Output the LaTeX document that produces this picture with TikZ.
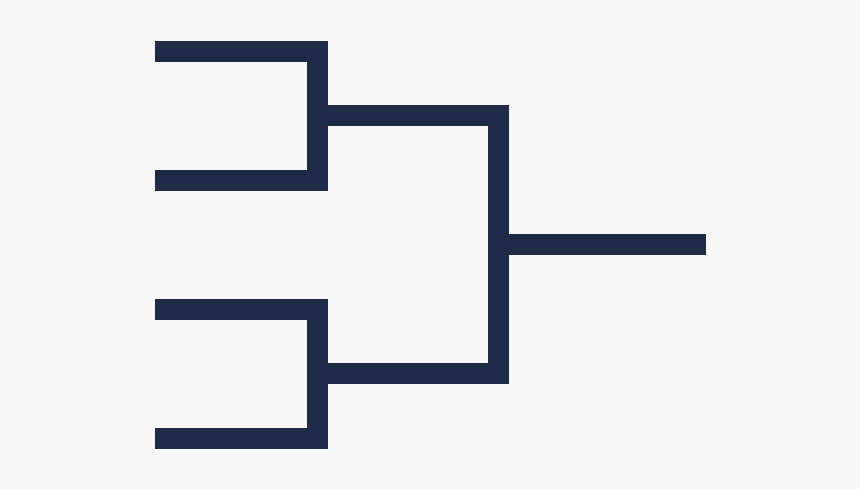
\documentclass[tikz,border=0pt]{standalone}
\definecolor{bg}{HTML}{F7F7F7}
\definecolor{navy}{HTML}{1E2A47}
\tikzset{bracketline/.style={draw=navy,line width=20.7pt,line join=miter,line cap=butt}}
\begin{document}
\begin{tikzpicture}[x=1pt,y=-1pt]
\fill[bg] (0,0) rectangle (860,489);
\useasboundingbox (0,0) rectangle (860,489);
% first round, top pair
\draw[bracketline] (155,51.3) -- (317.6,51.3) -- (317.6,180.2) -- (155,180.2);
% first round, bottom pair
\draw[bracketline] (155,309.3) -- (317.6,309.3) -- (317.6,438.2) -- (155,438.2);
% second round
\draw[bracketline] (327.9,115.7) -- (498.8,115.7) -- (498.8,373.8) -- (327.9,373.8);
% final
\draw[bracketline] (509.1,244.6) -- (705.7,244.6);
\end{tikzpicture}
\end{document}
